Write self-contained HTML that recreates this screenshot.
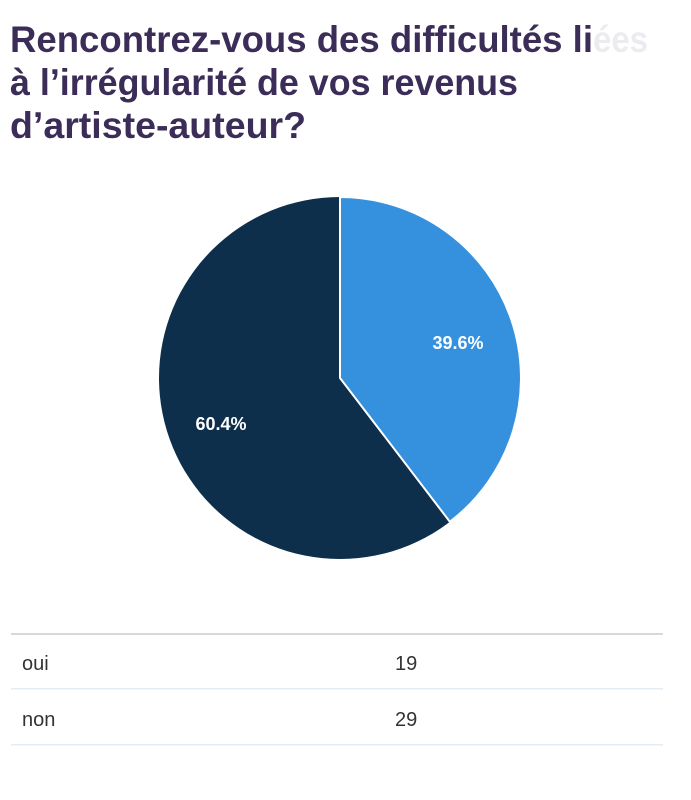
<!DOCTYPE html>
<html><head><meta charset="utf-8"><style>
html,body{margin:0;padding:0;background:#fff;width:691px;height:800px;overflow:hidden}
</style></head><body>
<svg width="691" height="800" xmlns="http://www.w3.org/2000/svg" font-family="Liberation Sans, sans-serif">
<g fill="#3b2d58" font-weight="bold" font-size="37">
<text x="10" y="52" textLength="583" lengthAdjust="spacingAndGlyphs">Rencontrez-vous des difficultés li</text>
<text x="593" y="52" fill="#ecebf0" textLength="55" lengthAdjust="spacingAndGlyphs">ées</text>
<text x="10" y="95" textLength="508" lengthAdjust="spacingAndGlyphs">à l’irrégularité de vos revenus</text>
<text x="10" y="138" textLength="296" lengthAdjust="spacingAndGlyphs">d’artiste-auteur?</text>
</g>
<circle cx="340" cy="378" r="181" fill="#0d2f4b"/>
<path d="M340 378 L340 197 A181 181 0 0 1 449.9 521.8 Z" fill="#3591de" stroke="#fff" stroke-width="2"/>
<text x="458" y="349" fill="#fff" font-weight="bold" font-size="18" text-anchor="middle">39.6%</text>
<text x="221" y="430" fill="#fff" font-weight="bold" font-size="18" text-anchor="middle">60.4%</text>
<rect x="11" y="633" width="652" height="2" fill="#d6d8dc"/>
<rect x="11" y="688" width="652" height="1.5" fill="#e2ecf5"/>
<rect x="11" y="744" width="652" height="1.5" fill="#e2ecf5"/>
<g fill="#333" font-size="20">
<text x="22" y="670">oui</text>
<text x="395" y="670">19</text>
<text x="22" y="726">non</text>
<text x="395" y="726">29</text>
</g>
</svg>
</body></html>
